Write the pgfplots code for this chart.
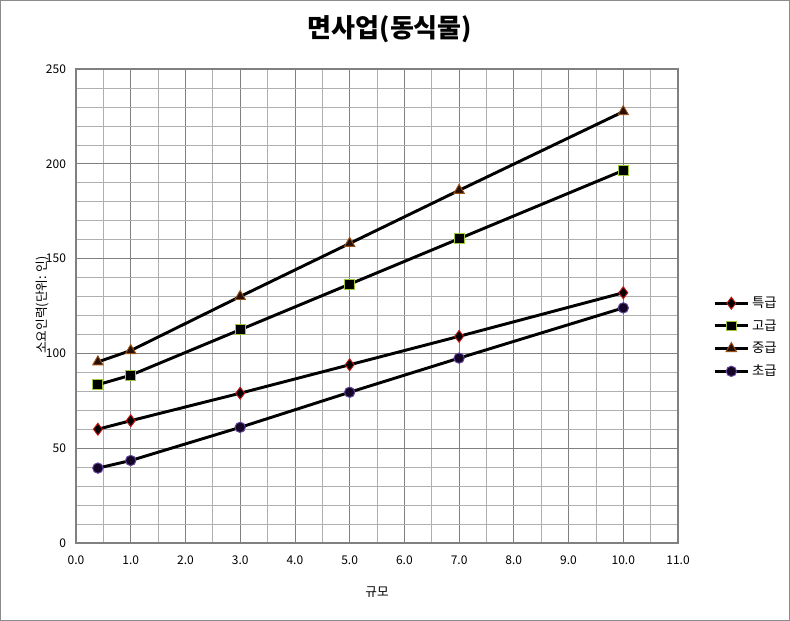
\documentclass[border=0pt]{standalone}
\usepackage{pgfplots}
\pgfplotsset{compat=1.18}
\usepackage{fontspec}
\setmainfont{Noto Sans CJK KR}
\definecolor{gridmaj}{RGB}{128,128,128}
\definecolor{gridmin}{RGB}{175,175,175}
\definecolor{tkred}{RGB}{200,20,20}
\definecolor{gogreen}{RGB}{160,200,60}
\definecolor{jbrown}{RGB}{150,80,20}
\definecolor{jfill}{RGB}{40,15,5}
\definecolor{cpurple}{RGB}{100,70,160}
\definecolor{cfill}{RGB}{20,5,40}
\begin{document}
\begin{tikzpicture}
\draw[gray!90, line width=0.8pt] (0.4pt,0.4pt) rectangle (592.1pt,465.35pt);
\begin{axis}[
  at={(57pt,58.5pt)}, anchor=south west,
  scale only axis, width=451.5pt, height=355.5pt,
  xmin=0, xmax=11, ymin=0, ymax=250,
  xtick={0,1,...,11}, minor xtick={0.5,1.5,...,10.5},
  ytick={0,50,...,250}, minor ytick={10,20,30,40,60,70,80,90,110,120,130,140,160,170,180,190,210,220,230,240},
  grid=both,
  major grid style={gridmaj, line width=0.6pt},
  minor grid style={gridmin, line width=0.5pt},
  axis line style={gridmaj, line width=0.8pt},
  tick style={draw=none},
  /pgf/number format/assume math mode=true,
  x tick label style={/pgf/number format/fixed, /pgf/number format/fixed zerofill, /pgf/number format/precision=1, yshift=-6pt},
  y tick label style={/pgf/number format/fixed, /pgf/number format/precision=0, xshift=-4pt},
  ticklabel style={font=\fontsize{9}{11}\selectfont},
  xlabel={규모}, xlabel style={font=\fontsize{9.5}{11}\selectfont, at={(axis description cs:0.5,-0.103)}, anchor=center},
  ylabel={소요인력(단위: 인)}, ylabel style={font=\fontsize{9.5}{11}\selectfont, at={(axis description cs:-0.056,0.502)}, anchor=center},
  title={면사업(동식물)}, title style={font=\fontsize{19.5}{23}\selectfont\bfseries, at={(axis description cs:0.5216,1.067)}, anchor=center},
  legend style={draw=none, fill=none, at={(1.058,0.434)}, anchor=west, font=\fontsize{10}{12}\selectfont, row sep=3.6pt, inner sep=0pt},
  legend cell align=left,
  legend image code/.code={\draw[line width=2.2pt, #1, mark repeat=2, mark phase=2] plot coordinates {(0cm,0cm) (0.44cm,0cm) (0.88cm,0cm)};},
  clip=false,
]
\addplot[black, line width=2.2pt, mark=diamond*, mark size=4.5pt, mark options={fill=black, draw=tkred, line width=0.7pt}]
  coordinates {(0.4,60) (1,64.5) (3,79) (5,94) (7,109) (10,132)};
\addlegendentry{특급}
\addplot[black, line width=2.2pt, mark=square*, mark size=3.7pt, mark options={fill=black, draw=gogreen, line width=0.7pt}]
  coordinates {(0.4,83.5) (1,88.5) (3,112.5) (5,136.5) (7,160.5) (10,196.5)};
\addlegendentry{고급}
\addplot[black, line width=2.2pt, mark=triangle*, mark size=4.5pt, mark options={fill=jfill, draw=jbrown, line width=0.7pt}]
  coordinates {(0.4,95.5) (1,101.5) (3,130) (5,158) (7,186) (10,227.5)};
\addlegendentry{중급}
\addplot[black, line width=2.2pt, mark=*, mark size=3.9pt, mark options={fill=cfill, draw=cpurple, line width=0.7pt}]
  coordinates {(0.4,39.5) (1,43.5) (3,61) (5,79.5) (7,97.5) (10,124)};
\addlegendentry{초급}
\end{axis}
\end{tikzpicture}
\end{document}
